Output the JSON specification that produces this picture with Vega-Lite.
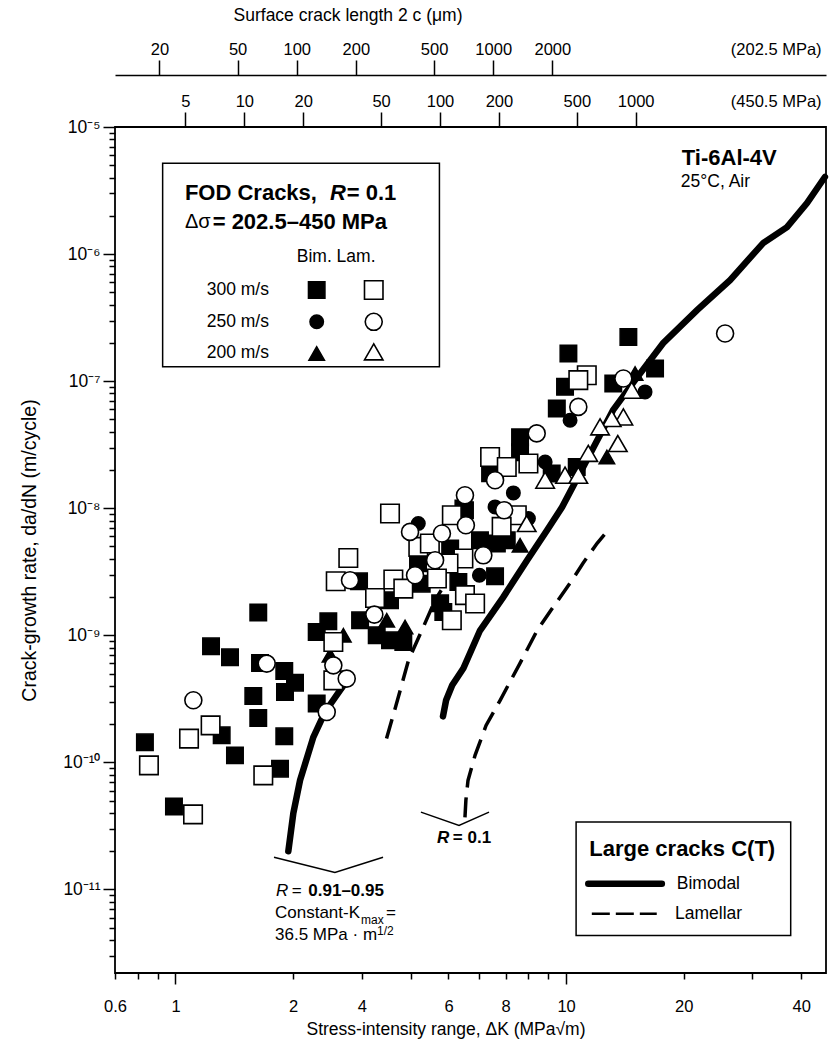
{
"$schema":"https://vega.github.io/schema/vega-lite/v6.json",
"width":711,"height":846,
"autosize":{"type":"none"},
"padding":{"left":115,"top":127,"right":6,"bottom":75},
"background":"white",
"config":{
 "view":{"stroke":"black","strokeWidth":1.8},
 "font":"Liberation Sans",
 "axis":{"labelFont":"Liberation Sans","titleFont":"Liberation Sans","labelColor":"black","titleColor":"black","tickColor":"black","domainColor":"black","tickWidth":1.5,"domainWidth":1.5,"grid":false,"labelFlush":false,"labelOverlap":false,"titleFontWeight":"normal"},
 "text":{"font":"Liberation Sans"}
},
"datasets":{
 "pts":[
  {"k":0.835,"r":1.437e-10,"c":"B300"},{"k":0.991,"r":4.5e-11,"c":"B300"},{"k":1.233,"r":8.19e-10,"c":"B300"},{"k":1.379,"r":6.71e-10,"c":"B300"},{"k":1.313,"r":1.632e-10,"c":"B300"},{"k":1.42,"r":1.135e-10,"c":"B300"},{"k":1.582,"r":3.33e-10,"c":"B300"},{"k":1.629,"r":1.51e-9,"c":"B300"},{"k":1.629,"r":2.23e-10,"c":"B300"},{"k":1.646,"r":6.05e-10,"c":"B300"},{"k":1.852,"r":8.92e-11,"c":"B300"},{"k":1.899,"r":5.23e-10,"c":"B300"},{"k":2.023,"r":4.24e-10,"c":"B300"},{"k":1.907,"r":3.58e-10,"c":"B300"},{"k":1.899,"r":1.602e-10,"c":"B300"},{"k":2.299,"r":2.9e-10,"c":"B300"},{"k":2.299,"r":1.062e-9,"c":"B300"},{"k":2.462,"r":1.289e-9,"c":"B300"},{"k":2.951,"r":2.66e-9,"c":"B300"},{"k":2.969,"r":1.312e-9,"c":"B300"},{"k":3.275,"r":1.0e-9,"c":"B300"},{"k":3.542,"r":9.13e-10,"c":"B300"},{"k":3.831,"r":8.86e-10,"c":"B300"},{"k":4.178,"r":3.69e-9,"c":"B300"},{"k":7.625,"r":3.62e-8,"c":"B300"},{"k":7.625,"r":2.76e-8,"c":"B300"},{"k":6.39,"r":1.886e-8,"c":"B300"},{"k":9.19,"r":1.876e-8,"c":"B300"},{"k":10.65,"r":2.11e-8,"c":"B300"},{"k":5.51,"r":9.65e-9,"c":"B300"},{"k":6.02,"r":5.6e-9,"c":"B300"},{"k":6.65,"r":5.27e-9,"c":"B300"},{"k":7.05,"r":5.6e-9,"c":"B300"},{"k":5.05,"r":4.82e-9,"c":"B300"},{"k":6.58,"r":2.91e-9,"c":"B300"},{"k":5.3,"r":2.63e-9,"c":"B300"},{"k":4.27,"r":2.55e-9,"c":"B300"},{"k":4.85,"r":1.526e-9,"c":"B300"},{"k":3.542,"r":1.886e-9,"c":"B300"},{"k":4.76,"r":1.786e-9,"c":"B300"},{"k":14.44,"r":2.23e-7,"c":"B300"},{"k":10.14,"r":1.652e-7,"c":"B300"},{"k":9.94,"r":9.02e-8,"c":"B300"},{"k":16.9,"r":1.259e-7,"c":"B300"},{"k":13.21,"r":9.59e-8,"c":"B300"},{"k":9.47,"r":6.1e-8,"c":"B300"},{"k":5.46,"r":9.95e-9,"c":"B300"},
  {"k":0.855,"r":9.47e-11,"c":"L300"},{"k":1.109,"r":3.9e-11,"c":"L300"},{"k":1.083,"r":1.537e-10,"c":"L300"},{"k":1.23,"r":1.956e-10,"c":"L300"},{"k":1.678,"r":7.9e-11,"c":"L300"},{"k":2.536,"r":8.86e-10,"c":"L300"},{"k":2.536,"r":4.42e-10,"c":"L300"},{"k":2.572,"r":2.66e-9,"c":"L300"},{"k":2.77,"r":4.06e-9,"c":"L300"},{"k":3.243,"r":1.966e-9,"c":"L300"},{"k":3.612,"r":2.75e-9,"c":"L300"},{"k":3.831,"r":2.33e-9,"c":"L300"},{"k":3.542,"r":9.08e-9,"c":"L300"},{"k":4.185,"r":4.96e-9,"c":"L300"},{"k":6.39,"r":2.53e-8,"c":"L300"},{"k":7.05,"r":2.11e-8,"c":"L300"},{"k":8.01,"r":2.25e-8,"c":"L300"},{"k":7.48,"r":8.81e-9,"c":"L300"},{"k":5.1,"r":8.81e-9,"c":"L300"},{"k":4.48,"r":5.27e-9,"c":"L300"},{"k":6.84,"r":7.13e-9,"c":"L300"},{"k":5.46,"r":4.02e-9,"c":"L300"},{"k":5.0,"r":3.67e-9,"c":"L300"},{"k":4.67,"r":2.8e-9,"c":"L300"},{"k":5.51,"r":2.07e-9,"c":"L300"},{"k":5.85,"r":1.777e-9,"c":"L300"},{"k":5.1,"r":1.312e-9,"c":"L300"},{"k":11.3,"r":1.114e-7,"c":"L300"},{"k":10.75,"r":1.018e-7,"c":"L300"},
  {"k":1.111,"r":3.08e-10,"c":"L250"},{"k":1.712,"r":5.99e-10,"c":"L250"},{"k":2.439,"r":2.49e-10,"c":"L250"},{"k":2.536,"r":5.8e-10,"c":"L250"},{"k":2.744,"r":4.56e-10,"c":"L250"},{"k":2.798,"r":2.71e-9,"c":"L250"},{"k":3.229,"r":1.455e-9,"c":"L250"},{"k":3.986,"r":6.51e-9,"c":"L250"},{"k":4.105,"r":2.97e-9,"c":"L250"},{"k":8.41,"r":3.88e-8,"c":"L250"},{"k":6.58,"r":1.662e-8,"c":"L250"},{"k":5.51,"r":1.266e-8,"c":"L250"},{"k":6.94,"r":9.65e-9,"c":"L250"},{"k":5.54,"r":7.35e-9,"c":"L250"},{"k":4.81,"r":6.32e-9,"c":"L250"},{"k":6.14,"r":4.26e-9,"c":"L250"},{"k":4.62,"r":3.9e-9,"c":"L250"},{"k":14.02,"r":1.05e-7,"c":"L250"},{"k":10.75,"r":6.27e-8,"c":"L250"},{"k":25.54,"r":2.37e-7,"c":"L250"},
  {"k":8.84,"r":2.31e-8,"c":"B250"},{"k":7.33,"r":1.32e-8,"c":"B250"},{"k":6.58,"r":1.024e-8,"c":"B250"},{"k":8.01,"r":8.3e-9,"c":"B250"},{"k":4.185,"r":7.58e-9,"c":"B250"},{"k":6.0,"r":2.97e-9,"c":"B250"},{"k":15.93,"r":8.23e-8,"c":"B250"},{"k":10.24,"r":4.93e-8,"c":"B250"},
  {"k":8.84,"r":1.662e-8,"c":"L200"},{"k":9.94,"r":1.818e-8,"c":"L200"},{"k":10.75,"r":1.818e-8,"c":"L200"},{"k":11.4,"r":2.7e-8,"c":"L200"},{"k":13.57,"r":3.23e-8,"c":"L200"},{"k":7.93,"r":7.58e-9,"c":"L200"},{"k":14.73,"r":8.49e-8,"c":"L200"},{"k":14.02,"r":5.23e-8,"c":"L200"},{"k":13.09,"r":5.08e-8,"c":"L200"},{"k":12.22,"r":4.37e-8,"c":"L200"},
  {"k":2.69,"r":1.0e-9,"c":"B200"},{"k":2.487,"r":6.96e-10,"c":"B200"},{"k":3.474,"r":1.312e-9,"c":"B200"},{"k":3.87,"r":1.162e-9,"c":"B200"},{"k":12.72,"r":2.53e-8,"c":"B200"},{"k":7.625,"r":5.11e-9,"c":"B200"},{"k":15.02,"r":1.149e-7,"c":"B200"},
  {"k":2.299,"r":5.21e-7,"c":"B300"},{"k":3.218,"r":5.21e-7,"c":"L300"},{"k":2.299,"r":2.93e-7,"c":"B250"},{"k":3.218,"r":2.93e-7,"c":"L250"},{"k":2.299,"r":1.652e-7,"c":"B200"},{"k":3.218,"r":1.7e-7,"c":"L200"}
 ],
 "curves":[
  {"id":"bim1","t":"bim","k":1.945,"r":2.0e-11},{"id":"bim1","t":"bim","k":2.003,"r":3.97e-11},{"id":"bim1","t":"bim","k":2.084,"r":7.22e-11},{"id":"bim1","t":"bim","k":2.254,"r":1.58e-10},{"id":"bim1","t":"bim","k":2.414,"r":2.49e-10},{"id":"bim1","t":"bim","k":2.638,"r":3.69e-10},{"id":"bim1","t":"bim","k":2.717,"r":4.19e-10},
  {"id":"bim2","t":"bim","k":4.84,"r":2.3e-10},{"id":"bim2","t":"bim","k":4.93,"r":3.08e-10},{"id":"bim2","t":"bim","k":5.11,"r":4.04e-10},{"id":"bim2","t":"bim","k":5.46,"r":5.5e-10},{"id":"bim2","t":"bim","k":6.02,"r":1.09e-9},{"id":"bim2","t":"bim","k":6.9,"r":1.99e-9},{"id":"bim2","t":"bim","k":7.95,"r":3.9e-9},{"id":"bim2","t":"bim","k":8.94,"r":6.71e-9},{"id":"bim2","t":"bim","k":9.77,"r":1.02e-8},{"id":"bim2","t":"bim","k":10.86,"r":1.89e-8},{"id":"bim2","t":"bim","k":13.19,"r":5.91e-8},{"id":"bim2","t":"bim","k":15.02,"r":1.02e-7},{"id":"bim2","t":"bim","k":17.72,"r":1.99e-7},{"id":"bim2","t":"bim","k":21.65,"r":3.62e-7},{"id":"bim2","t":"bim","k":26.3,"r":6.24e-7},{"id":"bim2","t":"bim","k":31.96,"r":1.22e-6},{"id":"bim2","t":"bim","k":36.8,"r":1.63e-6},{"id":"bim2","t":"bim","k":41.4,"r":2.52e-6},{"id":"bim2","t":"bim","k":46.0,"r":4.04e-6},
  {"id":"lam1","t":"lam","k":3.47,"r":1.54e-10},{"id":"lam1","t":"lam","k":3.67,"r":2.81e-10},{"id":"lam1","t":"lam","k":3.95,"r":6.36e-10},{"id":"lam1","t":"lam","k":4.31,"r":1.16e-9},{"id":"lam1","t":"lam","k":4.62,"r":1.89e-9},{"id":"lam1","t":"lam","k":4.79,"r":2.26e-9},
  {"id":"lam2","t":"lam","k":5.51,"r":3.69e-11},{"id":"lam2","t":"lam","k":5.54,"r":5.02e-11},{"id":"lam2","t":"lam","k":5.61,"r":7.21e-11},{"id":"lam2","t":"lam","k":5.85,"r":1.14e-10},{"id":"lam2","t":"lam","k":6.24,"r":1.95e-10},{"id":"lam2","t":"lam","k":6.78,"r":3.08e-10},{"id":"lam2","t":"lam","k":7.62,"r":6.02e-10},{"id":"lam2","t":"lam","k":8.43,"r":1.09e-9},{"id":"lam2","t":"lam","k":9.26,"r":1.66e-9},{"id":"lam2","t":"lam","k":10.36,"r":2.71e-9},{"id":"lam2","t":"lam","k":11.05,"r":3.69e-9},{"id":"lam2","t":"lam","k":12.01,"r":5.3e-9},{"id":"lam2","t":"lam","k":12.81,"r":6.71e-9},
  {"id":"br1","t":"thin","k":1.787,"r":1.79e-11},{"id":"br1","t":"thin","k":2.56,"r":1.36e-11},{"id":"br1","t":"thin","k":3.4,"r":1.79e-11},
  {"id":"br2","t":"thin","k":4.25,"r":4.06e-11},{"id":"br2","t":"thin","k":5.32,"r":3.19e-11},{"id":"br2","t":"thin","k":6.35,"r":4.06e-11},
  {"id":"legb","t":"bim","k":11.4,"r":1.109e-11},{"id":"legb","t":"bim","k":17.59,"r":1.109e-11},
  {"id":"legl","t":"legl","k":11.64,"r":6.44e-12},{"id":"legl","t":"legl","k":17.07,"r":6.44e-12}
 ],
 "boxes":[
  {"k":0.927,"k2":4.74,"r":5.18e-6,"r2":1.296e-7},
  {"k":10.61,"k2":37.6,"r":3.39e-11,"r2":4.34e-12}
 ],
 "texts":[
  {"k":19.79,"r":5.67e-6,"t":"Ti-6Al-4V","s":22,"st":"b"},
  {"k":19.67,"r":3.71e-6,"t":"25°C, Air","s":17.5,"st":"n"},
  {"k":1.057,"r":3.01e-6,"t":"FOD Cracks,","s":22,"st":"b"},
  {"k":2.487,"r":3.01e-6,"t":"R","s":22,"st":"bi"},
  {"k":2.744,"r":3.01e-6,"t":"= 0.1","s":22,"st":"b"},
  {"k":1.057,"r":1.796e-6,"t":"Δσ","s":20,"st":"n"},
  {"k":1.245,"r":1.796e-6,"t":"= 202.5–450 MPa","s":22,"st":"b"},
  {"k":2.044,"r":9.52e-7,"t":"Bim. Lam.","s":17.5,"st":"n"},
  {"k":1.202,"r":5.21e-7,"t":"300 m/s","s":17.5,"st":"n"},
  {"k":1.202,"r":2.93e-7,"t":"250 m/s","s":17.5,"st":"n"},
  {"k":1.202,"r":1.652e-7,"t":"200 m/s","s":17.5,"st":"n"},
  {"k":11.47,"r":2.09e-11,"t":"Large cracks C(T)","s":22,"st":"b"},
  {"k":19.21,"r":1.109e-11,"t":"Bimodal","s":17.5,"st":"n"},
  {"k":19.01,"r":6.44e-12,"t":"Lamellar","s":17.5,"st":"n"},
  {"k":4.67,"r":2.54e-11,"t":"R","s":17,"st":"bi"},
  {"k":5.13,"r":2.54e-11,"t":"= 0.1","s":17,"st":"b"},
  {"k":1.809,"r":9.65e-12,"t":"R","s":17,"st":"i"},
  {"k":1.985,"r":9.65e-12,"t":"=","s":17,"st":"n"},
  {"k":2.188,"r":9.65e-12,"t":"0.91–0.95","s":17,"st":"b"},
  {"k":1.798,"r":6.47e-12,"t":"Constant-K","s":17,"st":"n"},
  {"k":2.985,"r":5.75e-12,"t":"max","s":12,"st":"n"},
  {"k":3.46,"r":6.47e-12,"t":"=","s":17,"st":"n"},
  {"k":1.798,"r":4.38e-12,"t":"36.5 MPa · m","s":17,"st":"n"},
  {"k":3.281,"r":4.72e-12,"t":"1/2","s":12,"st":"n"}
 ]
},
"layer":[
 {
  "encoding":{
   "x":{"field":"k","type":"quantitative","scale":{"type":"log","domain":[0.7,46.3],"nice":false},
     "axis":{"orient":"bottom","domain":false,"values":[0.7,0.8,0.9,1,2,3,4,5,6,7,8,9,10,20,30,40],
       "labelExpr":"datum.value==0.7?'0.6':datum.value==1?'1':datum.value==2?'2':datum.value==3?'4':datum.value==5?'6':datum.value==7?'8':datum.value==10?'10':datum.value==20?'20':datum.value==40?'40':''",
       "tickSize":{"condition":{"test":"datum.value==1||datum.value==10","value":11},"value":6},
       "labelPadding":{"condition":{"test":"datum.value==1||datum.value==10","value":14},"value":19},
       "labelFontSize":16.5,
       "title":"Stress-intensity range, ΔK (MPa√m)","titleFontSize":17.5,"titleX":330.5,"titleY":61.7,"titleBaseline":"alphabetic","titleAlign":"center"}},
   "y":{"field":"r","type":"quantitative","scale":{"type":"log","domain":[2.2e-12,1e-5],"nice":false},
     "axis":{"orient":"left","domain":false,
       "values":[3e-12,4e-12,5e-12,6e-12,7e-12,8e-12,9e-12,1e-11,2e-11,3e-11,4e-11,5e-11,6e-11,7e-11,8e-11,9e-11,1e-10,2e-10,3e-10,4e-10,5e-10,6e-10,7e-10,8e-10,9e-10,1e-9,2e-9,3e-9,4e-9,5e-9,6e-9,7e-9,8e-9,9e-9,1e-8,2e-8,3e-8,4e-8,5e-8,6e-8,7e-8,8e-8,9e-8,1e-7,2e-7,3e-7,4e-7,5e-7,6e-7,7e-7,8e-7,9e-7,1e-6,2e-6,3e-6,4e-6,5e-6,6e-6,7e-6,8e-6,9e-6,1e-5],
       "labelExpr":"datum.value==1e-5?'10⁻⁵':datum.value==1e-6?'10⁻⁶':datum.value==1e-7?'10⁻⁷':datum.value==1e-8?'10⁻⁸':datum.value==1e-9?'10⁻⁹':datum.value==1e-10?'10⁻¹⁰':datum.value==1e-11?'10⁻¹¹':''",
       "tickSize":{"condition":{"test":"datum.value==1e-5||datum.value==1e-6||datum.value==1e-7||datum.value==1e-8||datum.value==1e-9||datum.value==1e-10||datum.value==1e-11","value":12},"value":6},
       "labelPadding":3,"labelFontSize":17.5,
       "title":"Crack-growth rate, da/dN (m/cycle)","titleFontSize":19.5,"titleX":-80,"titleY":423,"titleBaseline":"alphabetic","titleAlign":"center","titleAngle":270}}
  },
  "layer":[
   {"data":{"name":"boxes"},"mark":{"type":"rect","fill":"white","stroke":"black","strokeWidth":1.5},
    "encoding":{"x2":{"field":"k2"},"y2":{"field":"r2"}}},
   {"data":{"name":"curves"},"transform":[{"filter":"datum.t=='lam'"}],"mark":{"type":"line","color":"black","strokeWidth":3.5,"strokeDash":[20,10]},
    "encoding":{"detail":{"field":"id"}}},
   {"data":{"name":"curves"},"transform":[{"filter":"datum.t=='bim'"}],"mark":{"type":"line","color":"black","strokeWidth":6.5,"strokeCap":"round"},
    "encoding":{"detail":{"field":"id"}}},
   {"data":{"name":"curves"},"transform":[{"filter":"datum.t=='legl'"}],"mark":{"type":"line","color":"black","strokeWidth":2.5,"strokeDash":[18,6]},
    "encoding":{"detail":{"field":"id"}}},
   {"data":{"name":"curves"},"transform":[{"filter":"datum.t=='thin'"}],"mark":{"type":"line","color":"black","strokeWidth":1.5},
    "encoding":{"detail":{"field":"id"}}},
   {"data":{"name":"pts"},"transform":[{"filter":"datum.c=='B300'"}],"mark":{"type":"point","shape":"square","size":272,"filled":true,"fill":"black","stroke":"black","strokeWidth":1.5,"opacity":1}},
   {"data":{"name":"pts"},"transform":[{"filter":"datum.c=='B200'"}],"mark":{"type":"point","shape":"triangle-up","size":240,"filled":true,"fill":"black","stroke":"black","strokeWidth":1.5,"opacity":1}},
   {"data":{"name":"pts"},"transform":[{"filter":"datum.c=='B250'"}],"mark":{"type":"point","shape":"circle","size":182,"filled":true,"fill":"black","stroke":"black","strokeWidth":1.5,"opacity":1}},
   {"data":{"name":"pts"},"transform":[{"filter":"datum.c=='L300'"}],"mark":{"type":"point","shape":"square","size":342,"filled":true,"fill":"white","stroke":"black","strokeWidth":1.6,"opacity":1}},
   {"data":{"name":"pts"},"transform":[{"filter":"datum.c=='L250'"}],"mark":{"type":"point","shape":"circle","size":289,"filled":true,"fill":"white","stroke":"black","strokeWidth":1.6,"opacity":1}},
   {"data":{"name":"pts"},"transform":[{"filter":"datum.c=='L200'"}],"mark":{"type":"point","shape":"triangle-up","size":342,"filled":true,"fill":"white","stroke":"black","strokeWidth":1.6,"opacity":1}},
   {"data":{"name":"texts"},"transform":[{"filter":"datum.st=='n'"}],"mark":{"type":"text","align":"left","baseline":"middle","color":"black"},
    "encoding":{"text":{"field":"t"},"size":{"field":"s","type":"quantitative","scale":null}}},
   {"data":{"name":"texts"},"transform":[{"filter":"datum.st=='b'"}],"mark":{"type":"text","align":"left","baseline":"middle","fontWeight":"bold","color":"black"},
    "encoding":{"text":{"field":"t"},"size":{"field":"s","type":"quantitative","scale":null}}},
   {"data":{"name":"texts"},"transform":[{"filter":"datum.st=='i'"}],"mark":{"type":"text","align":"left","baseline":"middle","fontStyle":"italic","color":"black"},
    "encoding":{"text":{"field":"t"},"size":{"field":"s","type":"quantitative","scale":null}}},
   {"data":{"name":"texts"},"transform":[{"filter":"datum.st=='bi'"}],"mark":{"type":"text","align":"left","baseline":"middle","fontStyle":"italic","fontWeight":"bold","color":"black"},
    "encoding":{"text":{"field":"t"},"size":{"field":"s","type":"quantitative","scale":null}}}
  ]
 },
 {
  "data":{"values":[{"a":11.89},{"a":49390}]},
  "mark":{"type":"rule","opacity":0},
  "encoding":{"x":{"field":"a","type":"quantitative","scale":{"type":"log","domain":[11.89,49390],"nice":false},
   "axis":{"orient":"top","offset":52,"domain":true,"values":[20,50,100,200,500,1000,2000,27400],
    "labelExpr":"datum.value>20000?'(202.5 MPa)':''+datum.value",
    "tickSize":15,"tickOpacity":{"condition":{"test":"datum.value>20000","value":0},"value":1},
    "labelPadding":3,"labelFontSize":16.5,
    "title":"Surface crack length 2 c (μm)","titleFontSize":17.5,"titleX":232.5,"titleY":-54.5,"titleBaseline":"alphabetic","titleAlign":"center"}}}
 },
 {
  "data":{"values":[{"a":2.184},{"a":9385}]},
  "mark":{"type":"rule","opacity":0},
  "encoding":{"x":{"field":"a","type":"quantitative","scale":{"type":"log","domain":[2.184,9385],"nice":false},
   "axis":{"orient":"top","offset":0,"domain":false,"values":[5,10,20,50,100,200,500,1000,5193],
    "labelExpr":"datum.value>5000?'(450.5 MPa)':''+datum.value",
    "tickSize":15,"tickOpacity":{"condition":{"test":"datum.value>5000","value":0},"value":1},
    "labelPadding":3,"labelFontSize":16.5,"title":null}}}
 }
],
"resolve":{"scale":{"x":"independent"},"axis":{"x":"independent"}}
}
